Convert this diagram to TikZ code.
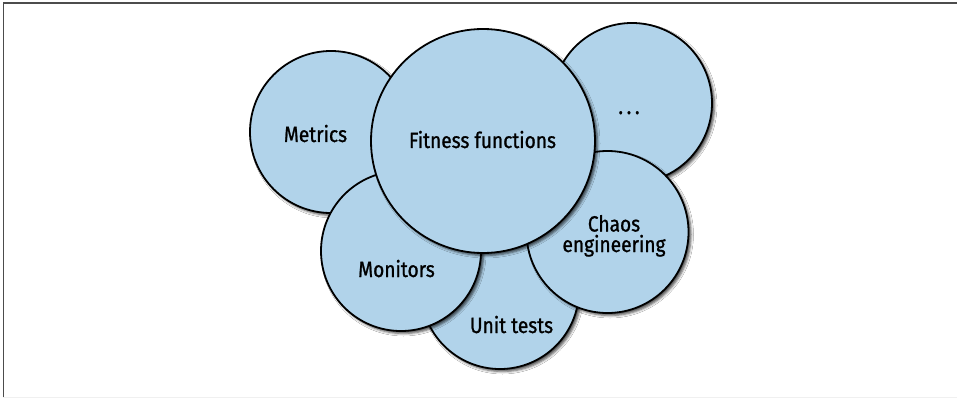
\documentclass[tikz,border=0pt]{standalone}
\usepackage{fontspec}
\setmainfont{Fira Sans}[FakeStretch=0.87,FakeBold=1]
\usetikzlibrary{shadows.blur}
\definecolor{bubble}{RGB}{177,211,234}
\tikzset{
  bub/.style={circle, draw=black, line width=1.8pt, fill=bubble, inner sep=0pt, outer sep=0pt,
    minimum size=2*#1,
    blur shadow={shadow xshift=2.5pt, shadow yshift=-2.5pt, shadow blur radius=2.5pt, shadow opacity=70}},
  lbl/.style={font=\fontsize{22}{20.5}\selectfont, anchor=base, inner sep=0pt, text=black, align=center}
}
\begin{document}
\begin{tikzpicture}[x=1pt,y=-1pt]
\useasboundingbox (0,0) rectangle (957,398);
\fill[white] (0,0) rectangle (957,398);
\draw[black!70, line width=1.5pt] (3.3,398) -- (3.3,2.8) -- (957,2.8);
\draw[gray!12, line width=0.8pt] (3.3,397) -- (957,397);
% circles, back to front
\node[bub=81pt] (metrics) at (331,132) {};
\node[bub=80pt] (dots) at (632,103) {};
\node[bub=79pt] (unit) at (500,290) {};
\node[bub=80pt] (monitors) at (401,251) {};
\node[bub=81pt] (chaos) at (607.5,232) {};
\node[bub=112pt] (fitness) at (483,141) {};
% labels
\node[lbl] (tmetrics) at (315.5,142) {Metrics};
\node[lbl] (tdots) at (629,114) {.\,.\,.};
\node[lbl] (tunit) at (511.5,333) {Unit tests};
\node[lbl] (tmonitors) at (396.5,277) {Monitors};
\node[lbl] (tchaos) at (614,252) {Chaos\\engineering};
\node[lbl] (tfitness) at (482.5,148) {Fitness functions};
\end{tikzpicture}
\end{document}
